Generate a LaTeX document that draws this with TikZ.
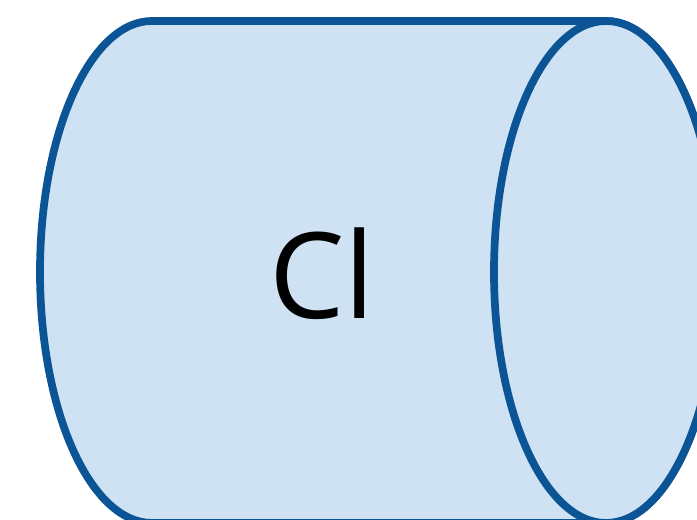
\documentclass[tikz,border=0pt]{standalone}
\usepackage{fontspec}
\setmainfont{Open Sans}
\definecolor{canline}{RGB}{11,84,150}
\definecolor{canfill}{RGB}{207,226,243}
\begin{document}
\begin{tikzpicture}[x=0.02cm, y=0.02cm,
    can/.style={draw=canline, fill=canfill, line width=4.4pt, line join=round}]
  \useasboundingbox (0,0) rectangle (697,520);
  \clip (0,0) rectangle (697,520);
  % Body of the cylinder
  \draw[can] (606,499) -- (152,499)
    arc[start angle=90, end angle=270, x radius=112, y radius=251]
    -- (606,-3)
    arc[start angle=-90, end angle=90, x radius=112, y radius=251] -- cycle;
  % Right end face
  \draw[can] (606,248) ellipse[x radius=112, y radius=251];
  % Label
  \node[font=\fontsize{68}{68}\selectfont] (cl) at (322,246) {Cl};
\end{tikzpicture}
\end{document}
